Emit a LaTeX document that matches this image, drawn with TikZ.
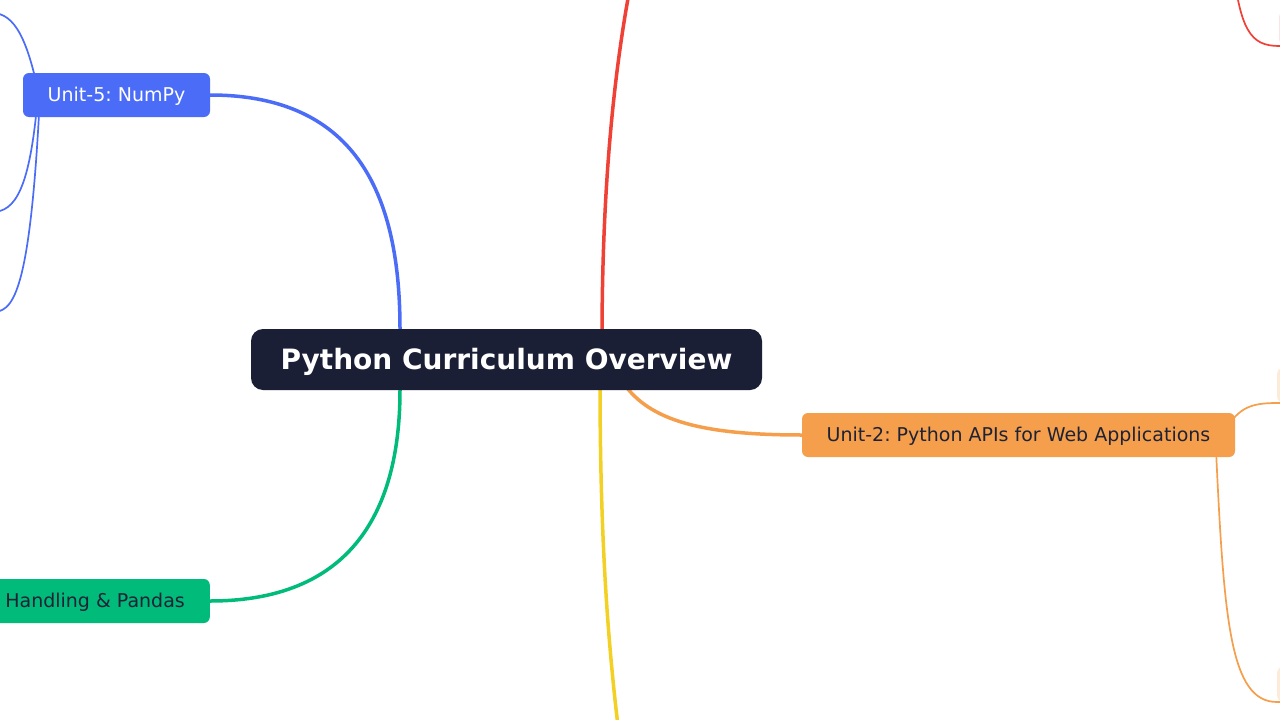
\documentclass[tikz,border=0pt]{standalone}
\usepackage{fontspec}
\setmainfont{DejaVu Sans}
\usetikzlibrary{calc}
\frenchspacing
\definecolor{rootc}{HTML}{1B1F36}
\definecolor{bluec}{HTML}{4A6CF7}
\definecolor{greenc}{HTML}{00BB7A}
\definecolor{orangec}{HTML}{F59F4C}
\definecolor{redc}{HTML}{EF4136}
\definecolor{yellowc}{HTML}{F2D124}
\definecolor{textc}{HTML}{1E2235}
\definecolor{peachc}{HTML}{FDEBDA}
\definecolor{pinkc}{HTML}{FDE4E4}
\tikzset{
  rootbox/.style={fill=rootc, rounded corners=12pt, minimum width=511pt, minimum height=61pt,
    inner sep=0pt, text=white, text height=20.4pt, text depth=0pt,
    font=\fontsize{28}{34}\selectfont\bfseries},
  unitbox/.style={rounded corners=6pt, minimum height=44pt, inner ysep=0pt,
    text height=13.9pt, text depth=0pt, font=\fontsize{19}{23}\selectfont},
  childbox/.style={rounded corners=6pt, minimum width=120pt, minimum height=35pt, inner sep=0pt},
  mainlink/.style={line width=3.5pt},
  sublink/.style={line width=1.7pt},
}
\begin{document}
\begin{tikzpicture}[x=1pt,y=-1pt]
\useasboundingbox (0,0) rectangle (1280,720);
\clip (0,0) rectangle (1280,720);
\fill[white] (0,0) rectangle (1280,720);

% off-canvas anchors
\coordinate (redn) at (640,-60);
\coordinate (yelln) at (628,800);
\coordinate (redsub) at (1232,-40);
\coordinate (b1) at (-8,13);
\coordinate (b2) at (-8,212);
\coordinate (b3) at (-8,312);

% child boxes (right edge)
\node[childbox, fill=peachc, anchor=south west] (c21) at (1277,403) {};
\node[childbox, fill=peachc, anchor=south west] (c22) at (1277,702) {};
\node[childbox, fill=pinkc, anchor=south west] (c11) at (1279,46) {};

% centres of root and unit nodes
\coordinate (rootc) at (506.5,359.5);
\coordinate (u5c) at (116.5,95);
\coordinate (u2c) at (1018.5,435);

% main links
\draw[mainlink, bluec] (210,95) .. controls (360,95) and (400,200) .. (400,329);
\draw[mainlink, greenc] (210,601) .. controls (360,601) and (400,500) .. (400,390);
\draw[mainlink, redc] (602,340) .. controls (602,200) and (612,60) .. (redn);
\draw[mainlink, yellowc] (600,380) .. controls (600,560) and (610,680) .. (yelln);
\draw[mainlink, orangec] (624,384) .. controls (650,420) and (700,435) .. (802,435);

% sub links
\draw[sublink, bluec] (40,100) .. controls (28,40) and (15,13) .. (b1);
\draw[sublink, bluec] (38,95) .. controls (30,190) and (15,212) .. (b2);
\draw[sublink, bluec] (40,95) .. controls (30,300) and (12,312) .. (b3);
\draw[sublink, orangec] (1226,428) .. controls (1240,408) and (1250,403) .. (c21.south west) -- (c21.south east);
\draw[sublink, orangec] (1216,450) .. controls (1224,620) and (1230,702) .. (c22.south west) -- (c22.south east);
\draw[sublink, redc] (redsub) .. controls (1240,30) and (1250,46) .. (c11.south west) -- (c11.south east);

% nodes
\node[rootbox] (root) at (rootc) {Python Curriculum Overview};
\node[unitbox, fill=bluec, text=white, minimum width=187pt, inner xsep=0pt] (u5) at (u5c) {Unit-5: NumPy};
\node[unitbox, fill=orangec, text=textc, minimum width=433pt, inner xsep=0pt] (u2) at (u2c) {Unit-2: Python APIs for Web Applications};
\node[unitbox, fill=greenc, text=textc, anchor=east, inner xsep=25pt] (u4) at (210,601) {Handling \& Pandas};
\end{tikzpicture}
\end{document}
